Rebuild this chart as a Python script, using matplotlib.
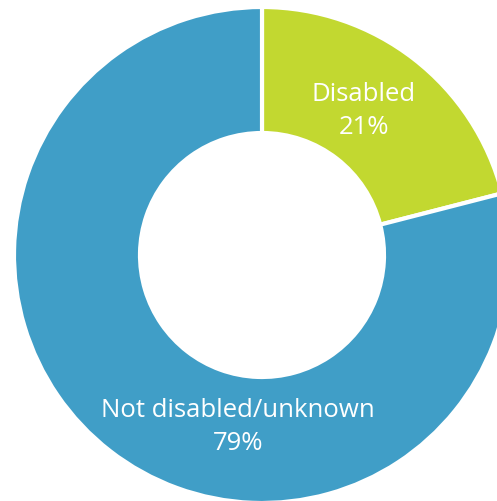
import matplotlib.pyplot as plt

categories = ['Disabled', 'Not disabled/unknown']
shares = [21, 79]
colors = ['#C2D830', '#409EC7']

fig = plt.figure(figsize=(4.97, 5.02), dpi=100)
ax = fig.add_axes([0, 0, 1, 1])

# work in pixel units so the ring lands where it sits in the reference
cx, cy, r_out, r_in = 262, 246, 248, 122
ax.pie(shares, colors=colors, startangle=90, counterclock=False,
       center=(cx, cy), radius=r_out,
       wedgeprops=dict(width=r_out - r_in, edgecolor='white', linewidth=3))

ax.set_xlim(0, 497)
ax.set_ylim(0, 502)
ax.set_aspect('equal')
ax.axis('off')

label_pos = [(364, 391), (238, 75)]
for name, val, (x, y) in zip(categories, shares, label_pos):
    ax.text(x, y, f'{name}\n{val}%', ha='center', va='center', color='white',
            fontsize=18.5, linespacing=1.4, family=['Open Sans', 'DejaVu Sans'])

fig.savefig('out.png', dpi=100)
